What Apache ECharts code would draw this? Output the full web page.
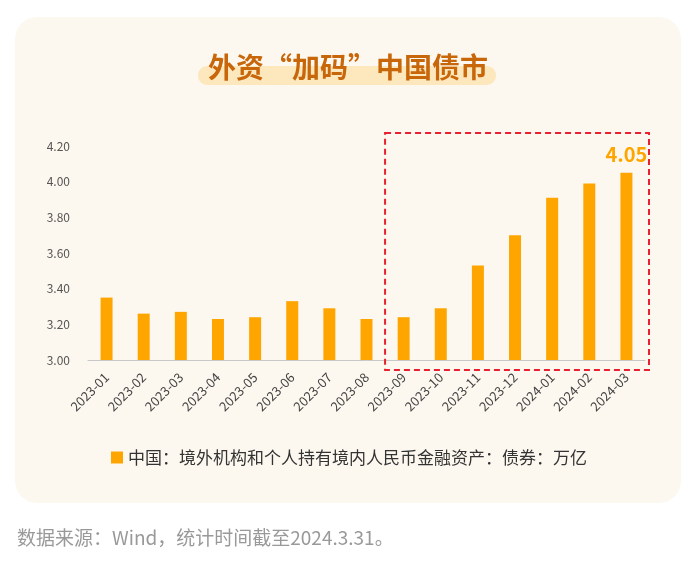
<!DOCTYPE html>
<html><head><meta charset="utf-8">
<script src="https://cdn.jsdelivr.net/npm/echarts@6/dist/echarts.min.js"></script>
<style>html,body{margin:0;padding:0;background:#fff}#c{width:700px;height:564px}</style>
</head><body><div id="c"></div>
<script>
const categories = ['2023-01','2023-02','2023-03','2023-04','2023-05','2023-06','2023-07','2023-08','2023-09','2023-10','2023-11','2023-12','2024-01','2024-02','2024-03'];
const bondValues = [3.35,3.26,3.27,3.23,3.24,3.33,3.29,3.23,3.24,3.29,3.53,3.70,3.91,3.99,4.05];
const seriesName = '中国：境外机构和个人持有境内人民币金融资产：债券：万亿';
const titleText = '外资“加码”中国债市';
const footText = '数据来源：Wind，统计时间截至2024.3.31。';
const yTicks = {min:3.0, max:4.2, interval:0.2};
const highlightFrom = '2023-09', highlightTo = '2024-03';

const font = '"Noto Sans CJK SC","Noto Sans",sans-serif';
const chart = echarts.init(document.getElementById('c'), null, {renderer:'canvas'});
const last = bondValues.length - 1;
const option = {
  backgroundColor:'#ffffff',
  textStyle:{fontFamily:font},
  animation:false,
  grid:{left:88, right:55, top:146, bottom:204, containLabel:false},
  legend:{
    left:106, top:444, icon:'rect', itemWidth:12, itemHeight:12, itemGap:8,
    textStyle:{fontSize:17, color:'#333', fontFamily:font},
    data:[seriesName]
  },
  xAxis:{
    type:'category', data:categories,
    axisLine:{lineStyle:{color:'#c8c8c8', width:1}},
    axisTick:{show:false},
    axisLabel:{rotate:45, color:'#444', fontSize:13, margin:15, interval:0, fontFamily:font}
  },
  yAxis:{
    type:'value', min:yTicks.min, max:yTicks.max, interval:yTicks.interval,
    axisLine:{show:false}, axisTick:{show:false}, splitLine:{show:false},
    axisLabel:{color:'#555', fontSize:12, margin:18, fontFamily:font, formatter:v=>v.toFixed(2)}
  },
  series:[{
    name:seriesName, type:'bar', barWidth:12,
    itemStyle:{color:'#FFA500'},
    data:bondValues.map((v,i)=> i===last ? {value:v, label:{show:true, position:'top', distance:8, formatter:p=>p.value.toFixed(2), color:'#FFA500', fontSize:20, fontWeight:'bold', fontFamily:font}} : v)
  }]
};
chart.setOption(option);

const band = chart.convertToPixel({xAxisIndex:0}, categories[1]) - chart.convertToPixel({xAxisIndex:0}, categories[0]);
const x0 = chart.convertToPixel({xAxisIndex:0}, highlightFrom) - band/2;
const x1 = chart.convertToPixel({xAxisIndex:0}, highlightTo) + band/2 + 4;
const y0 = chart.convertToPixel({yAxisIndex:0}, yTicks.max) - 13;
const y1 = chart.convertToPixel({yAxisIndex:0}, yTicks.min) + 10;

chart.setOption({
  graphic:[
    {type:'rect', z:-10, shape:{x:15, y:17, width:666, height:486, r:22}, style:{fill:'#fdf8ef'}},
    {type:'rect', z:-5, shape:{x:198, y:66, width:298, height:19, r:9}, style:{fill:'#fde7bd'}},
    {type:'text', z:10, x:348, y:67, style:{text:titleText, font:'bold 28px '+font, fill:'#c8660a', align:'center', verticalAlign:'middle'}},
    {type:'rect', z:20, shape:{x:x0, y:y0, width:x1-x0, height:y1-y0}, style:{fill:'none', stroke:'#e8202f', lineWidth:2, lineDash:[6,4]}},
    {type:'text', z:10, x:17, y:538, style:{text:footText, font:'19px '+font, fill:'#999', align:'left', verticalAlign:'middle'}}
  ]
});
</script></body></html>
